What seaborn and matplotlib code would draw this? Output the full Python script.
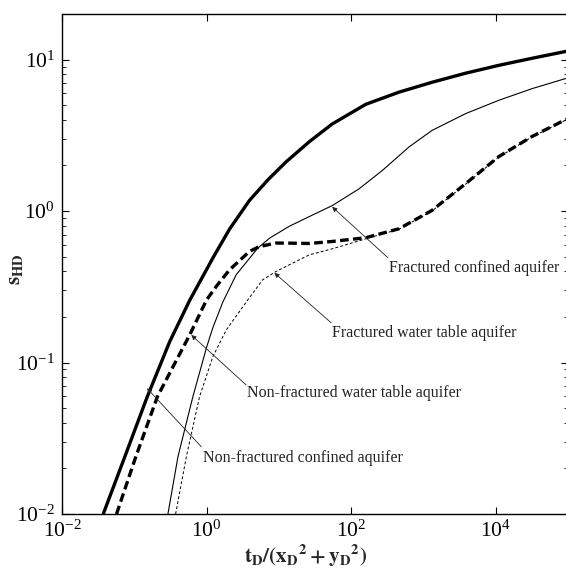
import numpy as np
import pandas as pd
import matplotlib
matplotlib.use("Agg")
import matplotlib.pyplot as plt
from matplotlib.ticker import LogLocator, LogFormatterMathtext, NullLocator
import seaborn as sns

# ---- data ----
t_nf_conf = [0.0372, 0.074, 0.150, 0.309, 0.583, 1.222, 2.075, 3.917, 7.015, 12.59,
             26.4, 54.7, 159.6, 459, 1309, 3819, 10990, 31400, 91400, 100000]
s_nf_conf = [0.0100, 0.0239, 0.0589, 0.1374, 0.257, 0.490, 0.759, 1.175, 1.603, 2.113,
             2.871, 3.758, 5.070, 6.095, 7.079, 8.128, 9.162, 10.19, 11.30, 11.40]

t_nf_wt = [0.0568, 0.105, 0.209, 0.583, 1.0, 1.361, 2.075, 3.917, 5.383, 9.14, 13.96,
           26.4, 54.7, 159.6, 459, 1309, 3819, 10990, 31400, 81280, 100000]
s_nf_wt = [0.0100, 0.0239, 0.0596, 0.152, 0.259, 0.318, 0.409, 0.541, 0.583, 0.615, 0.614,
           0.611, 0.630, 0.667, 0.764, 1.009, 1.514, 2.286, 3.097, 3.890, 4.07]

t_f_conf = [0.292, 0.402, 0.647, 1.0, 1.222, 1.679, 2.570, 5.105, 7.396, 13.96, 26.4,
            55.2, 128.8, 270.4, 631, 1321, 3819, 10990, 31700, 91400, 100000]
s_f_conf = [0.0100, 0.0239, 0.0596, 0.126, 0.170, 0.251, 0.380, 0.569, 0.661, 0.794, 0.920,
            1.089, 1.403, 1.854, 2.649, 3.412, 4.395, 5.383, 6.427, 7.482, 7.57]

t_f_wt = [0.373, 0.525, 0.800, 1.222, 1.871, 3.715, 5.984, 9.14, 13.96, 26.4, 55.2,
          159.6, 459, 1309, 3819, 10990, 31400, 81280, 100000]
s_f_wt = [0.0100, 0.0239, 0.0596, 0.1094, 0.164, 0.259, 0.352, 0.399, 0.442, 0.514, 0.564,
          0.656, 0.759, 1.0, 1.503, 2.270, 3.076, 3.864, 4.05]

x_ticks = [1e-2, 1e0, 1e2, 1e4]

# ---- style ----
sns.set_style("ticks")
plt.rcParams["font.family"] = ["Liberation Serif", "DejaVu Serif"]
plt.rcParams["mathtext.fontset"] = "stix"

fig = plt.figure(figsize=(5.66, 5.78), dpi=100)
ax = fig.add_axes([62 / 566, 64 / 578, 506 / 566, 500 / 578])

series = [
    (t_nf_conf, s_nf_conf, 2.4, None),
    (t_nf_wt, s_nf_wt, 2.4, (2.6, 1.3)),
    (t_f_conf, s_f_conf, 0.8, None),
    (t_f_wt, s_f_wt, 0.7, (3.0, 2.2)),
]
for t, s, lw, dash in series:
    df = pd.DataFrame({"t": t, "s": s})
    sns.lineplot(data=df, x="t", y="s", ax=ax, color="black", linewidth=lw,
                 estimator=None, sort=False)
    line = ax.lines[-1]
    if dash is not None:
        line.set_dashes(dash)
    line.set_solid_capstyle("butt")
    line.set_solid_joinstyle("round")

ax.set_xscale("log")
ax.set_yscale("log")
ax.set_xlim(1e-2, 1e5)
ax.set_ylim(1e-2, 20)
ax.xaxis.set_major_locator(plt.FixedLocator(x_ticks))
ax.xaxis.set_major_formatter(LogFormatterMathtext())
ax.xaxis.set_minor_locator(NullLocator())
ax.yaxis.set_major_locator(LogLocator(base=10))
ax.yaxis.set_major_formatter(LogFormatterMathtext())
ax.yaxis.set_minor_locator(LogLocator(base=10, subs=np.arange(2, 10)))

ax.tick_params(which="both", direction="in", top=True, right=True, colors="black")
ax.tick_params(which="major", length=5, width=0.8, labelsize=15.5, pad=5)
ax.tick_params(which="minor", length=3, width=0.6)
for sp in ax.spines.values():
    sp.set_visible(True)
    sp.set_color("black")
    sp.set_linewidth(1.0)

ax.set_xlabel(r"$\mathbf{t_{D}/(x_{D}{}^{2}+y_{D}{}^{2})}$", fontsize=15)
ax.xaxis.set_label_coords(0.482, -0.058)
ax.set_ylabel(r"$\mathbf{s_{HD}}$", fontsize=15)
ax.yaxis.set_label_coords(-0.074, 0.49)

# ---- annotations ----
ann = dict(arrowstyle="-|>", color="#222222", lw=0.6, mutation_scale=7,
           shrinkA=0, shrinkB=0)
notes = [
    ("Fractured confined aquifer", (54.7, 1.066), (323.6, 0.491), (334, 0.422)),
    ("Fractured water table aquifer", (8.67, 0.391), (52.9, 0.183), (54.7, 0.157)),
    ("Non-fractured water table aquifer", (0.615, 0.152), (3.53, 0.0711), (3.68, 0.0630)),
    ("Non-fractured confined aquifer", (0.150, 0.0676), (0.845, 0.0278), (0.881, 0.0234)),
]
for txt, head, tail, pos in notes:
    ax.annotate("", xy=head, xytext=tail, arrowprops=ann)
    ax.text(pos[0], pos[1], txt, fontsize=11.5, ha="left", va="center", color="#222222")

leg = ax.get_legend()
if leg is not None:
    leg.remove()

fig.savefig("out.png", dpi=100)
